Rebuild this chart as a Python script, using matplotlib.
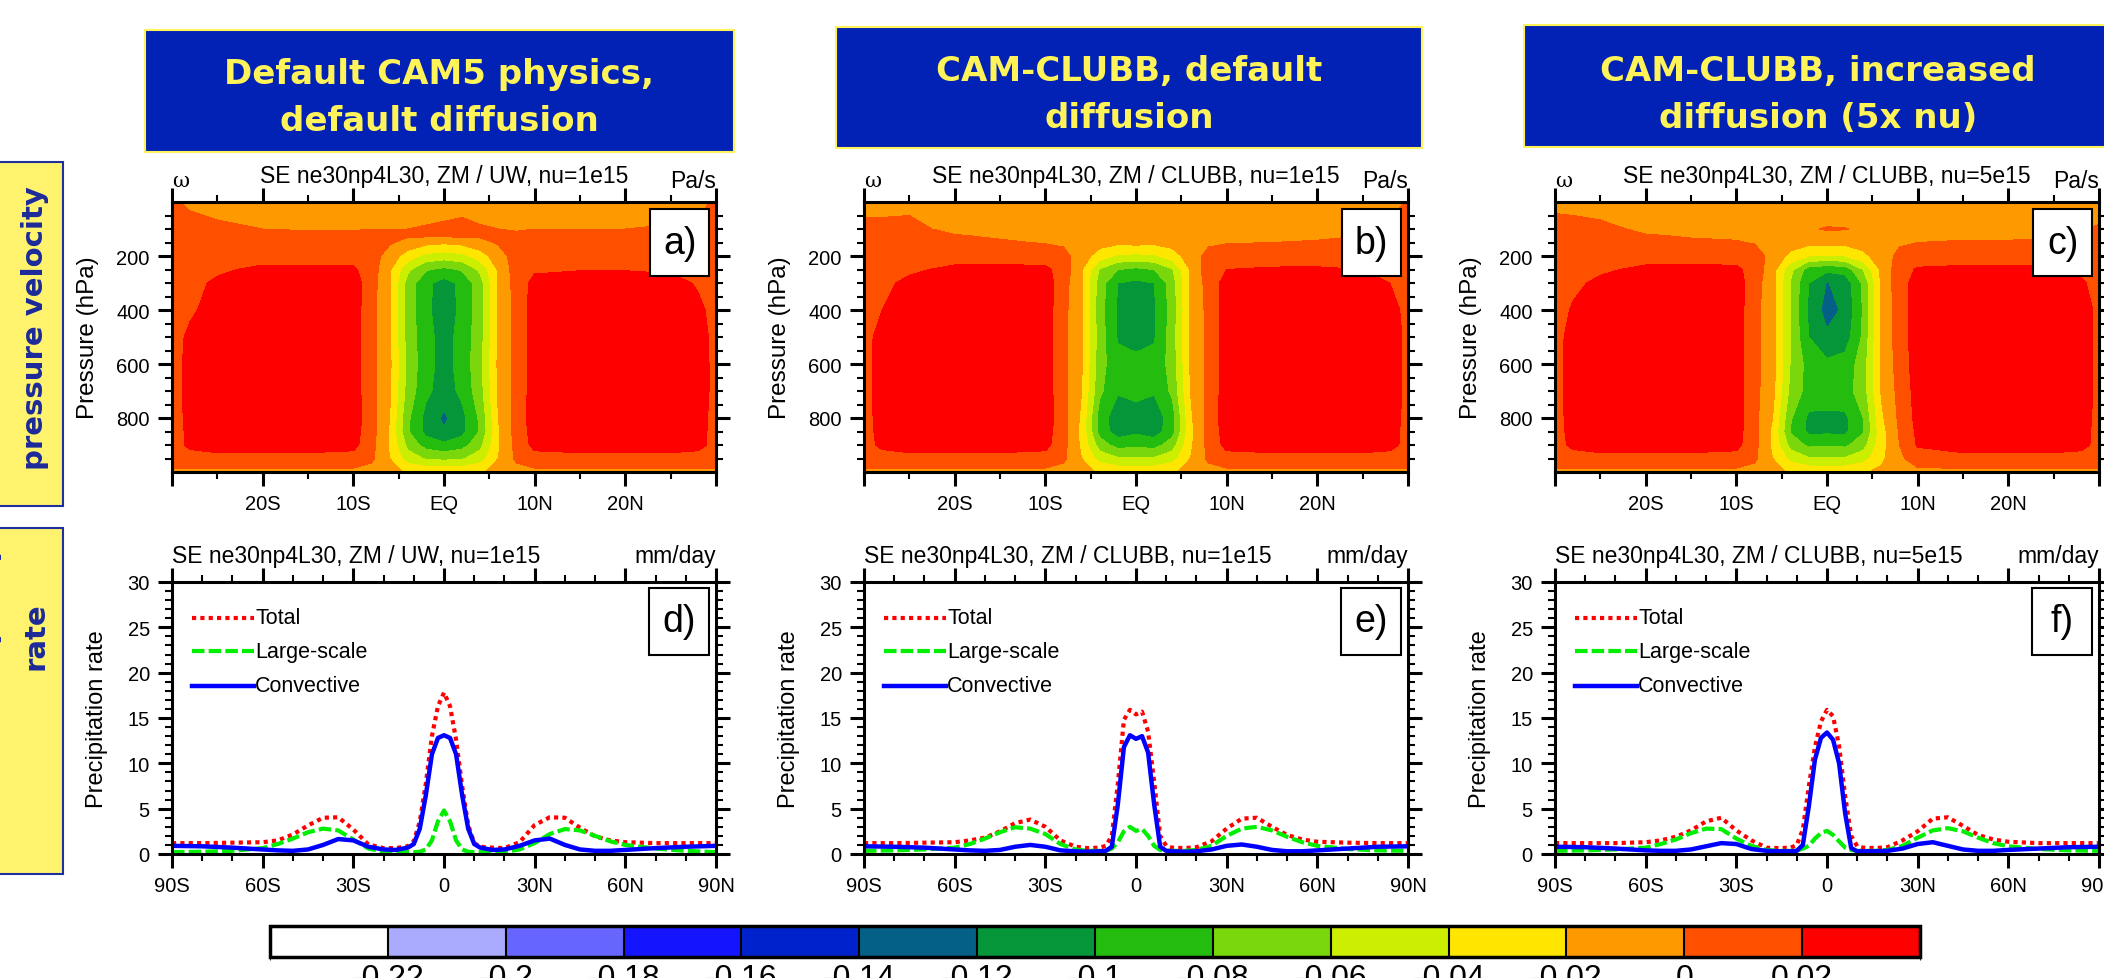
import numpy as np
import matplotlib
matplotlib.use("Agg")
import matplotlib.pyplot as plt
import matplotlib.cm as cm
from matplotlib.colors import ListedColormap, BoundaryNorm
from matplotlib.patches import Rectangle
from matplotlib.ticker import FixedLocator

plt.rcParams['font.family'] = ['Liberation Sans', 'DejaVu Sans']

W, H = 2104, 979

# ---------------- omega (Pa/s), zonal mean, lat-pressure ----------------
# values stored in mPa/s (1e-3 Pa/s)
lat_w = [-30, -28, -25, -20, -15, -10, -8, -6, -4, -2, 0, 2, 4, 6, 8, 10, 15, 20, 25, 28, 30]
plev = [0, 50, 100, 125, 150, 200, 250, 300, 400, 500, 600, 700, 800, 850, 900, 950, 1000]

omega_a = [
    [  3,  -4,  -8, -10, -10, -10, -10, -10, -10, -10, -10, -10, -10, -10, -10, -10, -10, -10,  -8,  -5,   2],
    [  8,   2,  -2,  -6,  -7,  -7,  -6,  -6,  -5,  -5,  -3,  -1,  -4,  -6,  -6,  -6,  -6,  -6,  -4,   0,   6],
    [ 12,   8,   4,   0,  -1,  -1,   0,   0,   0,   2,   4,   6,   2,   0,  -1,   0,   0,   0,   2,   5,   9],
    [ 13,  10,   6,   3,   3,   3,   3,   2,   2,   3,   3,   4,   3,   2,   2,   3,   3,   3,   5,   8,  11],
    [ 14,  11,   8,   6,   6,   7,   5,   2,  -6, -14, -17, -14,  -6,   2,   5,   7,   7,   7,   8,  10,  12],
    [ 16,  14,  13,  12,  12,  13,   8,  -8, -30, -46, -50, -46, -30,  -8,   8,  13,  12,  12,  13,  14,  15],
    [ 12,  14,  17,  24,  24,  23,  10, -17, -56, -78, -85, -78, -56, -17,  10,  17,  19,  19,  17,  14,  12],
    [ 10,  15,  23,  30,  32,  30,   8, -17, -68, -95, -108, -95, -68, -17,  8,  26,  30,  30,  27,  18,  12],
    [ 10,  17,  28,  34,  36,  30,   6, -17, -69, -95, -112, -95, -69, -17,  6,  30,  36,  36,  32,  24,  14],
    [ 12,  24,  32,  36,  38,  30,   6, -17, -68, -93, -108, -93, -68, -17,  6,  30,  38,  38,  34,  27,  15],
    [ 12,  26,  33,  36,  38,  30,   6, -16, -66, -92, -108, -92, -66, -16,  6,  30,  38,  38,  34,  28,  15],
    [ 12,  26,  33,  36,  38,  30,   6, -17, -68, -95, -110, -95, -68, -17,  6,  30,  38,  38,  34,  28,  15],
    [ 12,  25,  32,  35,  36,  30,   8, -20, -76, -106, -124, -106, -76, -20, 8,  30,  36,  36,  33,  27,  14],
    [ 12,  24,  30,  33,  34,  28,   8, -22, -78, -106, -118, -106, -78, -22, 8,  28,  34,  34,  31,  26,  14],
    [ 12,  24,  28,  28,  28,  26,   6, -22, -66, -88, -95, -88, -66, -22,   6,  26,  28,  28,  28,  26,  14],
    [  8,  12,  14,  14,  14,  12,   4, -20, -50, -62, -65, -62, -50, -20,   4,  12,  14,  14,  14,  12,   8],
    [ -3,  -5,  -5,  -5,  -5,  -5,  -8, -15, -22, -25, -25, -25, -22, -15,  -8,  -5,  -5,  -5,  -5,  -5,  -3],
]

omega_b = [
    [ -6, -10, -12, -12, -12, -12, -12, -12, -12, -12, -12, -12, -12, -12, -12, -12, -12, -12, -12, -10,   3],
    [ -1,  -1,   0,  -5,  -9, -10, -10, -10, -10, -10, -10, -10, -10, -10, -10, -10,  -9,  -8,  -5,  -2,   6],
    [  6,   6,   4,  -4,  -6,  -6,  -8, -10, -10, -10,  -8, -10, -10, -10,  -8,  -6,  -6,  -6,  -4,  -1,   4],
    [  9,   8,   6,   1,  -2,  -3,  -5,  -8, -11, -13, -12, -13, -11,  -8,  -5,  -3,  -3,  -2,   0,   3,   7],
    [ 12,  10,   8,   6,   2,  -1,  -3,  -6, -12, -16, -14, -16, -12,  -6,  -3,  -1,   0,   1,   3,   6,  10],
    [ 15,  14,  13,  12,  12,  10,   6, -10, -30, -43, -45, -43, -30, -10,   6,  10,  11,  12,  13,  14,  15],
    [ 12,  14,  17,  24,  25,  24,  12, -18, -62, -80, -85, -80, -62, -18,  12,  20,  22,  22,  20,  16,  12],
    [ 12,  16,  24,  30,  32,  30,   8, -18, -70, -100, -104, -100, -70, -18, 8,  28,  30,  30,  28,  20,  14],
    [ 12,  20,  30,  34,  36,  30,   6, -18, -72, -103, -106, -103, -72, -18, 6,  30,  36,  36,  32,  26,  15],
    [ 14,  26,  33,  36,  38,  30,   6, -18, -70, -102, -104, -102, -70, -18, 6,  30,  38,  38,  34,  28,  16],
    [ 14,  27,  33,  36,  38,  30,   6, -18, -72, -94, -97, -94, -72, -18,   6,  30,  38,  38,  34,  28,  16],
    [ 14,  27,  33,  36,  38,  30,   6, -20, -76, -98, -96, -98, -76, -20,   6,  30,  38,  38,  34,  28,  16],
    [ 14,  26,  32,  35,  36,  30,   8, -24, -90, -112, -106, -112, -90, -24, 8,  30,  36,  36,  33,  27,  15],
    [ 14,  25,  30,  33,  34,  28,   8, -26, -88, -110, -104, -110, -88, -26, 8,  28,  34,  34,  31,  26,  15],
    [ 13,  24,  28,  28,  28,  26,   6, -24, -70, -88, -84, -88, -70, -24,   6,  26,  28,  28,  28,  26,  14],
    [  8,  12,  14,  14,  14,  12,   4, -20, -48, -58, -58, -58, -48, -20,   4,  12,  14,  14,  14,  12,   8],
    [ -3,  -5,  -5,  -5,  -5,  -5,  -8, -15, -22, -26, -28, -26, -22, -15,  -8,  -5,  -5,  -5,  -5,  -5,  -3],
]

omega_c = [
    [ -6, -10, -12, -12, -12, -12, -12, -12, -12, -12, -12, -12, -12, -12, -12, -12, -12, -12, -12, -12,  -4],
    [  1,   0,  -2,  -8, -10, -10, -10, -10, -10, -10, -10, -10, -10, -10, -10, -10, -10,  -9,  -8,  -6,  -4],
    [  6,   5,   4,  -3,  -4,  -5,  -6,  -6,  -6,  -3,   2,   1,  -4,  -6,  -6,  -5,  -5,  -4,  -3,  -1,   2],
    [  9,   8,   7,   1,  -1,  -2,  -4,  -6,  -9,  -8,  -6,  -8,  -9,  -7,  -4,  -3,  -2,  -2,  -1,   2,   5],
    [ 12,  10,   9,   4,   2,   1,  -1,  -4, -10, -15, -14, -15, -10,  -6,  -2,   0,   1,   1,   2,   4,   8],
    [ 15,  14,  13,  12,  12,  11,   8,  -6, -26, -40, -42, -40, -26,  -8,   4,  10,  11,  12,  13,  14,  15],
    [ 12,  14,  17,  24,  25,  24,  12, -12, -55, -90, -95, -92, -60, -16,  12,  22,  24,  24,  22,  17,  13],
    [ 12,  16,  24,  30,  32,  30,   8, -12, -62, -100, -121, -112, -76, -16, 12,  28,  30,  30,  28,  22,  15],
    [ 12,  22,  30,  34,  36,  30,   6, -12, -62, -104, -128, -116, -78, -16, 10,  30,  36,  36,  32,  28,  16],
    [ 14,  26,  33,  36,  38,  30,   6, -12, -62, -100, -116, -110, -76, -16, 10,  30,  38,  38,  34,  28,  16],
    [ 14,  27,  33,  36,  38,  30,   6, -12, -62, -88, -96, -92, -70, -16,   8,  30,  38,  38,  34,  28,  16],
    [ 14,  27,  33,  36,  38,  30,   6, -14, -66, -88, -90, -88, -70, -18,   6,  28,  38,  38,  34,  28,  16],
    [ 14,  26,  32,  35,  36,  30,   6, -20, -78, -104, -104, -104, -80, -24, 4,  26,  36,  36,  33,  27,  15],
    [ 14,  25,  30,  33,  34,  28,   6, -24, -82, -104, -104, -104, -82, -28, 2,  24,  34,  34,  31,  26,  15],
    [ 13,  24,  28,  28,  28,  26,   6, -24, -68, -84, -82, -84, -68, -28,   0,  22,  28,  28,  28,  26,  14],
    [  8,  12,  14,  14,  14,  12,   4, -20, -46, -58, -58, -58, -48, -24,  -4,  10,  14,  14,  14,  12,   8],
    [ -3,  -5,  -5,  -5,  -5,  -5,  -8, -15, -22, -26, -28, -26, -22, -16, -10,  -5,  -5,  -5,  -5,  -5,  -3],
]

levels = [-0.22, -0.2, -0.18, -0.16, -0.14, -0.12, -0.1, -0.08, -0.06, -0.04, -0.02, 0, 0.02]
fill_colors = ['#FFFFFF', '#AAAAFF', '#6666FF', '#1414FF', '#0022CC', '#046086', '#05963A',
               '#25BC10', '#7AD70B', '#CCEE00', '#FFE600', '#FF9900', '#FF5000', '#FF0000']

# ---------------- precipitation (mm/day), zonal mean ----------------
lat_pr = [-90, -80, -70, -60, -55, -50, -45, -40, -35, -30, -25, -20, -16, -12, -10, -8, -6, -4, -2, 0,
          2, 4, 6, 8, 10, 12, 16, 20, 25, 30, 35, 40, 45, 50, 55, 60, 70, 80, 90]

total_d = [1.2, 1.2, 1.25, 1.3, 1.5, 2.15, 3.15, 4.0, 4.05, 2.7, 1.05, 0.65, 0.65, 0.85, 1.4, 3.6, 7.8, 13.0, 16.3, 17.8,
           16.3, 12.6, 7.5, 3.2, 1.2, 0.8, 0.7, 0.65, 1.3, 3.2, 4.05, 4.0, 2.9, 1.95, 1.5, 1.3, 1.2, 1.2, 1.2]
large_d = [0.2, 0.25, 0.35, 0.65, 1.1, 1.7, 2.4, 2.8, 2.6, 1.6, 0.6, 0.25, 0.2, 0.2, 0.2, 0.25, 0.5, 1.5, 3.6, 4.8,
           3.6, 1.5, 0.5, 0.25, 0.2, 0.2, 0.2, 0.25, 0.5, 1.2, 2.2, 2.75, 2.6, 2.0, 1.4, 1.0, 0.6, 0.35, 0.2]
conv_d = [0.9, 0.85, 0.7, 0.5, 0.4, 0.35, 0.5, 1.0, 1.65, 1.5, 0.8, 0.5, 0.45, 0.7, 1.1, 2.8, 6.5, 11.0, 12.8, 13.1,
          12.8, 11.0, 6.5, 2.8, 1.1, 0.7, 0.45, 0.5, 0.9, 1.5, 1.7, 1.0, 0.5, 0.35, 0.35, 0.45, 0.65, 0.8, 0.9]

total_e = [1.2, 1.2, 1.25, 1.3, 1.5, 1.8, 2.5, 3.4, 3.8, 3.0, 1.5, 0.8, 0.65, 0.7, 0.9, 2.0, 7.8, 14.8, 15.9, 15.4,
           15.7, 13.5, 8.0, 2.0, 0.9, 0.7, 0.65, 0.75, 1.4, 2.8, 3.9, 4.0, 3.0, 2.1, 1.6, 1.35, 1.25, 1.2, 1.2]
large_e = [0.35, 0.4, 0.5, 0.7, 1.1, 1.7, 2.4, 2.95, 2.8, 2.2, 1.1, 0.5, 0.35, 0.35, 0.35, 0.6, 1.3, 2.5, 3.0, 2.55,
           2.75, 2.0, 0.9, 0.45, 0.35, 0.35, 0.35, 0.45, 0.9, 2.0, 2.8, 3.0, 2.6, 1.9, 1.3, 0.9, 0.55, 0.4, 0.35]
conv_e = [0.85, 0.8, 0.7, 0.5, 0.4, 0.35, 0.45, 0.8, 1.0, 0.8, 0.4, 0.3, 0.25, 0.3, 0.35, 0.8, 5.5, 11.8, 13.1, 12.7,
          13.0, 11.2, 5.5, 0.8, 0.35, 0.3, 0.25, 0.3, 0.5, 0.9, 1.05, 0.8, 0.45, 0.3, 0.3, 0.4, 0.6, 0.8, 0.85]

total_f = [1.2, 1.2, 1.2, 1.3, 1.5, 1.9, 2.6, 3.6, 4.0, 2.6, 1.5, 0.7, 0.65, 0.7, 1.0, 2.7, 7.5, 11.8, 14.6, 15.9,
           15.2, 11.9, 6.4, 2.0, 0.85, 0.7, 0.65, 0.75, 1.5, 2.5, 3.9, 4.05, 3.1, 2.1, 1.6, 1.35, 1.2, 1.2, 1.2]
large_f = [0.35, 0.4, 0.5, 0.7, 1.1, 1.6, 2.3, 2.8, 2.75, 1.7, 0.9, 0.45, 0.35, 0.35, 0.4, 0.6, 0.9, 1.7, 2.3, 2.55,
           2.1, 1.4, 0.7, 0.45, 0.35, 0.35, 0.35, 0.45, 0.9, 1.8, 2.6, 2.85, 2.5, 1.8, 1.2, 0.85, 0.55, 0.4, 0.35]
conv_f = [0.8, 0.75, 0.6, 0.4, 0.35, 0.35, 0.5, 0.85, 1.2, 1.1, 0.55, 0.35, 0.3, 0.3, 0.35, 1.0, 5.3, 10.4, 12.8, 13.4,
          12.6, 10.0, 4.5, 0.65, 0.3, 0.3, 0.3, 0.35, 0.6, 1.1, 1.3, 0.9, 0.5, 0.35, 0.35, 0.45, 0.6, 0.75, 0.8]

run_titles = ["SE ne30np4L30, ZM / UW, nu=1e15",
              "SE ne30np4L30, ZM / CLUBB, nu=1e15",
              "SE ne30np4L30, ZM / CLUBB, nu=5e15"]
header_lines = [("Default CAM5 physics,", "default diffusion"),
                ("CAM-CLUBB, default", "diffusion"),
                ("CAM-CLUBB, increased", "diffusion (5x nu)")]
omegas = [omega_a, omega_b, omega_c]
precips = [(total_d, large_d, conv_d), (total_e, large_e, conv_e), (total_f, large_f, conv_f)]
tags_top = ["a)", "b)", "c)"]
tags_bot = ["d)", "e)", "f)"]

DOT = (0, (1, 1))
DASH = (0, (3, 1))


def pbox(x0, y0, x1, y1):
    """pixel box (top-left origin) -> figure fraction rect"""
    return [x0 / W, 1 - y1 / H, (x1 - x0) / W, (y1 - y0) / H]


def style_axes(ax):
    for s in ax.spines.values():
        s.set_linewidth(2.2)
    ax.tick_params(which='both', direction='out', top=True, right=True,
                   labelsize=14.5, pad=6)
    ax.tick_params(which='major', length=10, width=2.2)
    ax.tick_params(which='minor', length=5, width=1.5)


def tag_box(ax, label, x0, y0, w, h):
    ax.add_patch(Rectangle((x0, y0), w, h, transform=ax.transAxes, fc='white',
                           ec='black', lw=1.5, zorder=10))
    ax.text(x0 + w / 2, y0 + h / 2, label, transform=ax.transAxes, ha='center',
            va='center', fontsize=27, zorder=11)


fig = plt.figure(figsize=(W / 100, H / 100), dpi=100)

lefts = [172, 864, 1555]
box_x = [(145, 734), (836, 1422), (1524, 2112)]
box_y = [(31, 153), (28, 149), (26, 148)]
base_y = [(84, 131), (81, 128), (81, 128)]

for i in range(3):
    # header boxes
    (bx0, bx1), (by0, by1) = box_x[i], box_y[i]
    fig.add_artist(Rectangle((bx0 / W, 1 - by1 / H), (bx1 - bx0) / W, (by1 - by0) / H,
                             transform=fig.transFigure, fc='#0221B5', ec='#FFF35A', lw=1.5))
    cx = (bx0 + bx1) / 2 if i < 2 else 1818
    for line, by in zip(header_lines[i], base_y[i]):
        fig.text(cx / W, 1 - by / H, line, ha='center', va='baseline', color='#FFF35A',
                 fontsize=24.5, fontweight='bold', family='DejaVu Sans')

    # omega panel
    L = lefts[i]
    ax = fig.add_axes(pbox(L, 203, L + 544, 473))
    ax.contourf(lat_w, plev, np.array(omegas[i]) / 1000.0, levels=[-1] + levels + [1],
                colors=fill_colors)
    ax.set_xlim(-30, 30)
    ax.set_ylim(1000, 0)
    ax.set_xticks(range(-30, 31, 10))
    ax.set_xticklabels(['', '20S', '10S', 'EQ', '10N', '20N', ''])
    ax.xaxis.set_minor_locator(FixedLocator([-25, -15, -5, 5, 15, 25]))
    ax.set_yticks([200, 400, 600, 800])
    ax.yaxis.set_minor_locator(FixedLocator([p for p in range(50, 1000, 50) if p % 200]))
    style_axes(ax)
    ax.text(-0.155, 0.5, 'Pressure (hPa)', rotation=90, ha='center', va='center',
            fontsize=17.5, transform=ax.transAxes)
    ax.text(0.5, 1 + 20 / 270, run_titles[i], ha='center', va='baseline', fontsize=16.5,
            transform=ax.transAxes)
    ax.text(0.0, 1 + 16 / 270, '\u03c9', ha='left', va='baseline', fontsize=15,
            family='DejaVu Serif', transform=ax.transAxes)
    ax.text(1.0, 1 + 15 / 270, 'Pa/s', ha='right', va='baseline', fontsize=16.5,
            transform=ax.transAxes)
    tag_box(ax, tags_top[i], 0.879, 0.726, 0.109, 0.248)

    # precipitation panel
    ax2 = fig.add_axes(pbox(L, 583, L + 544, 855))
    tot, ls, cv = precips[i]
    ax2.plot(lat_pr, tot, color='#FF0000', lw=3, ls=DOT)
    ax2.plot(lat_pr, ls, color='#00EE00', lw=3, ls=DASH)
    ax2.plot(lat_pr, cv, color='#0000FF', lw=3.2)
    ax2.set_xlim(-90, 90)
    ax2.set_ylim(0, 30)
    ax2.set_xticks(range(-90, 91, 30))
    ax2.set_xticklabels(['90S', '60S', '30S', '0', '30N', '60N', '90N'])
    ax2.xaxis.set_minor_locator(FixedLocator([x for x in range(-80, 90, 10) if x % 30]))
    ax2.set_yticks(range(0, 31, 5))
    ax2.yaxis.set_minor_locator(FixedLocator([y for y in range(1, 30) if y % 5]))
    style_axes(ax2)
    ax2.text(-0.137, 0.5, 'Precipitation rate', rotation=90, ha='center', va='center',
             fontsize=17, transform=ax2.transAxes)
    ax2.text(0.0, 1 + 20 / 272, run_titles[i], ha='left', va='baseline', fontsize=16.5,
             transform=ax2.transAxes)
    ax2.text(1.0, 1 + 20 / 272, 'mm/day', ha='right', va='baseline', fontsize=16.5,
             transform=ax2.transAxes)
    tag_box(ax2, tags_bot[i], 0.876, 0.732, 0.111, 0.246)

    # hand-made legend
    for yy, col, sty, lw, name in [(0.868, '#FF0000', DOT, 3, 'Total'),
                                   (0.746, '#00EE00', DASH, 3, 'Large-scale'),
                                   (0.618, '#0000FF', '-', 3.2, 'Convective')]:
        ax2.plot([0.036, 0.151], [yy, yy], transform=ax2.transAxes, color=col, ls=sty, lw=lw)
        ax2.text(0.153, yy, name, transform=ax2.transAxes, ha='left', va='center',
                 fontsize=15.5)

# left side row labels (slide boxes, partly cut off at the image edge)
for (y0, y1), first, second, yc in [((163, 507), 'Mean vertical', 'pressure velocity', 328),
                                    ((529, 875), 'Mean precip.', 'rate', 636)]:
    fig.add_artist(Rectangle((-5 / W, 1 - y1 / H), 68 / W, (y1 - y0) / H,
                             transform=fig.transFigure, fc='#FFF36E', ec='#1F2F9F', lw=1.5))
    fig.text(35 / W, 1 - yc / H, second, rotation=90, ha='center', va='center',
             color='#1C2A9A', fontsize=21, fontweight='bold', family='DejaVu Sans')
    fig.text(2 / W, 1 - yc / H, first, rotation=90, ha='right', va='center',
             color='#1C2A9A', fontsize=21, fontweight='bold', family='DejaVu Sans')

# colour bar
cax = fig.add_axes(pbox(270, 927, 1920, 958))
bounds = [-0.24] + levels + [0.04]
norm = BoundaryNorm(bounds, len(fill_colors))
cb = fig.colorbar(cm.ScalarMappable(norm=norm, cmap=ListedColormap(fill_colors)), cax=cax,
                  orientation='horizontal', ticks=levels, drawedges=True)
cb.ax.set_xticklabels(['{:g}'.format(v) for v in levels])
cb.ax.tick_params(length=0, pad=4.5, labelsize=23)
cb.outline.set_linewidth(2.5)
cb.dividers.set_color('black')
cb.dividers.set_linewidth(1.5)

fig.savefig('out.png', dpi=100)
